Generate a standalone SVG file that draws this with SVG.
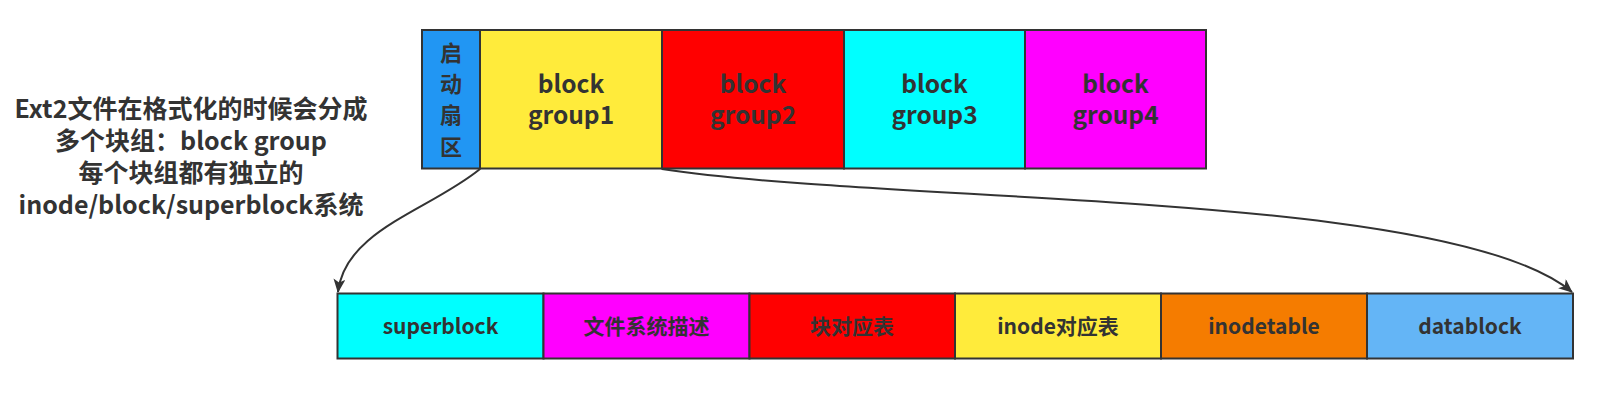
<svg xmlns="http://www.w3.org/2000/svg" width="1610" height="409" viewBox="0 0 1610 409">
<style>
.box{stroke:#333333;stroke-width:2}
.t{font-family:"Noto Sans CJK SC","Noto Sans",sans-serif;font-weight:bold;fill:#333333;text-anchor:middle}
.big{font-size:24.5px}
.mid{font-size:21px}
.lft{font-size:25px}
.boot{font-size:22px}
.edge{fill:none;stroke:#333333;stroke-width:2}
</style>
<defs>
<marker id="arr" viewBox="0 0 14 12" refX="13" refY="6" markerWidth="14" markerHeight="12" markerUnits="userSpaceOnUse" orient="auto">
<path d="M0,0 L14,6 L0,12 L3.5,6 Z" fill="#333333"/>
</marker>
</defs>
<rect width="1610" height="409" fill="#ffffff"/>
<g id="desc">
<text class="t lft" x="191" y="117.5">Ext2文件在格式化的时候会分成</text>
<text class="t lft" x="191" y="150">多个块组：block group</text>
<text class="t lft" x="191" y="182">每个块组都有独立的</text>
<text class="t lft" x="191" y="213.5">inode/block/superblock系统</text>
</g>
<g id="boot">
<rect class="box" x="422" y="30" width="58" height="138.5" fill="#2196F3"/>
<text class="t boot" x="451" y="61">启</text>
<text class="t boot" x="451" y="92">动</text>
<text class="t boot" x="451" y="123">扇</text>
<text class="t boot" x="451" y="155">区</text>
</g>
<g id="bg1">
<rect class="box" x="480" y="30" width="182" height="138.5" fill="#FFEB3B"/>
<text class="t big" x="571" y="93">block</text>
<text class="t big" x="571" y="124">group1</text>
</g>
<g id="bg2">
<rect class="box" x="662" y="30" width="182" height="138.5" fill="#FF0000"/>
<text class="t big" x="753" y="93">block</text>
<text class="t big" x="753" y="124">group2</text>
</g>
<g id="bg3">
<rect class="box" x="844" y="30" width="181" height="138.5" fill="#00FFFF"/>
<text class="t big" x="934.5" y="93">block</text>
<text class="t big" x="934.5" y="124">group3</text>
</g>
<g id="bg4">
<rect class="box" x="1025" y="30" width="181" height="138.5" fill="#FF00FF"/>
<text class="t big" x="1115.5" y="93">block</text>
<text class="t big" x="1115.5" y="124">group4</text>
</g>
<g id="superblock">
<rect class="box" x="337.5" y="293.5" width="206" height="65" fill="#00FFFF"/>
<text class="t mid" x="440.5" y="334">superblock</text>
</g>
<g id="fsdesc">
<rect class="box" x="543.5" y="293.5" width="206" height="65" fill="#FF00FF"/>
<text class="t mid" x="646.5" y="334">文件系统描述</text>
</g>
<g id="blockmap">
<rect class="box" x="749.5" y="293.5" width="205.5" height="65" fill="#FF0000"/>
<text class="t mid" x="852" y="334">块对应表</text>
</g>
<g id="inodemap">
<rect class="box" x="955" y="293.5" width="206" height="65" fill="#FFEB3B"/>
<text class="t mid" x="1058" y="334">inode对应表</text>
</g>
<g id="inodetable">
<rect class="box" x="1161" y="293.5" width="206" height="65" fill="#F57C00"/>
<text class="t mid" x="1264" y="334">inodetable</text>
</g>
<g id="datablock">
<rect class="box" x="1367" y="293.5" width="206" height="65" fill="#64B5F6"/>
<text class="t mid" x="1470" y="334">datablock</text>
</g>
<g id="connectors">
<path class="edge" d="M480,169 C430,210 345,230 338,292" marker-end="url(#arr)"/>
<path class="edge" d="M662,169 C900,205 1450,190 1572,292" marker-end="url(#arr)"/>
</g>
</svg>
